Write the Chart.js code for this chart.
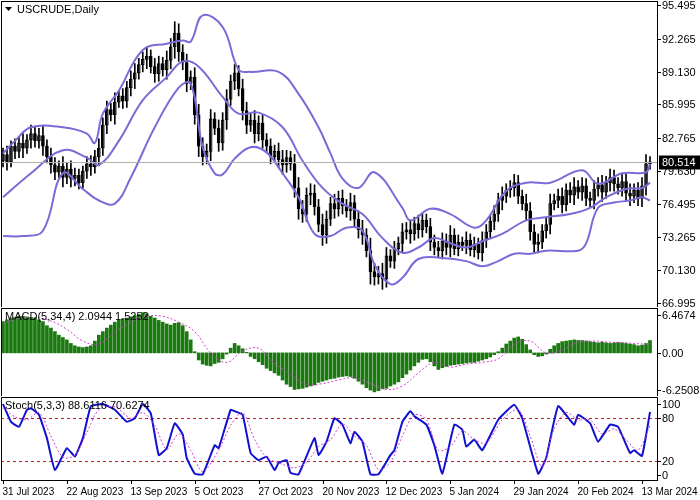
<!DOCTYPE html>
<html>
<head>
<meta charset="utf-8">
<script src="https://cdn.jsdelivr.net/npm/chart.js@4.4.1/dist/chart.umd.min.js"></script>
<style>
  body { margin: 0; background: #fff; }
  .pane { position: absolute; left: 0; width: 700px; }
</style>
</head>
<body>
<div class="pane" style="top:0;height:307px"><canvas id="priceChart"></canvas></div>
<div class="pane" style="top:307px;height:89px"><canvas id="macdChart"></canvas></div>
<div class="pane" style="top:396px;height:104px"><canvas id="stochChart"></canvas></div>
<script>
// daily closes, 31 Jul 2023 .. 13 Mar 2024 (bar index 0..162)
const closes = [
  81.2,80.5,82.0,81.5,82.3,81.8,82.6,83.2,82.5,83.0,82.0,
  81.0,80.2,79.5,80.1,79.0,79.8,78.9,79.2,78.5,79.6,
  80.3,80.0,81.0,81.8,84.0,
  85.5,85.0,86.2,86.8,86.3,87.6,
  88.4,89.0,89.8,90.3,90.6,
  89.6,88.9,89.9,89.3,90.2,
  91.5,92.8,91.0,
  90.0,88.0,88.6,
  85.0,82.0,81.0,
  81.5,84.6,83.7,
  82.3,84.5,86.5,88.2,89.0,
  87.5,85.4,84.0,84.5,
  83.2,84.2,82.6,82.0,
  81.0,81.5,80.7,80.2,80.9,80.3,
  78.0,76.0,75.5,77.3,
  77.5,76.2,74.5,73.5,
  75.0,76.5,76.0,77.0,76.3,75.8,76.6,
  75.0,74.0,73.5,72.0,70.0,69.5,
  69.8,69.3,71.5,71.0,
  72.2,72.7,73.8,74.0,73.6,74.6,74.0,74.9,74.3,
  72.8,72.3,
  72.0,72.9,72.3,73.5,72.2,72.8,72.5,73.0,72.1,72.6,71.8,73.0,
  73.8,74.8,75.5,76.8,77.2,77.8,78.0,
  78.5,77.2,
  76.5,75.8,73.8,72.6,
  72.8,73.9,74.5,
  76.5,76.8,77.2,76.4,77.8,77.3,78.1,77.6,78.2,77.0,76.8,77.9,
  78.3,77.6,78.5,79.0,78.4,78.0,78.6,77.5,77.2,77.8,77.0,78.2,
  80.3,80.5
];
const firstOpen = 80.6;
// wick length beyond the body, per bar
const wicks = [
  0.6,0.8,0.5,0.7,0.6,0.9,0.5,0.8,0.6,0.7,0.9,0.6,0.8,0.7,0.5,0.9,0.6,0.8,0.7,0.6,
  0.5,0.7,0.8,0.6,0.9,0.7,0.8,0.6,0.9,0.5,0.7,0.6,0.8,0.9,0.6,0.7,0.9,0.6,0.8,0.7,
  0.6,0.9,0.8,1.1,0.9,0.7,0.8,0.6,0.9,1.0,0.8,0.7,0.9,0.6,0.8,0.7,0.9,0.6,0.8,0.7,
  0.9,0.8,0.6,0.9,0.7,0.8,0.6,0.7,0.6,0.8,0.9,0.7,0.6,0.9,1.0,0.8,0.7,0.9,0.8,0.7,
  1.0,0.8,0.6,0.9,0.7,0.8,0.6,0.9,0.7,0.8,0.9,0.6,1.2,0.8,0.7,1.0,0.8,0.6,0.7,0.6,
  0.8,0.7,0.9,0.6,0.8,0.7,0.6,0.8,0.7,0.6,0.8,0.7,0.9,0.6,0.7,0.5,0.8,0.6,0.7,0.6,
  0.8,0.7,0.6,0.8,0.7,0.9,0.6,0.7,0.8,0.7,0.6,0.9,0.8,0.7,0.8,0.6,0.7,0.9,0.6,0.7,
  0.8,0.6,0.7,0.9,0.6,0.8,0.7,0.6,0.8,0.7,0.9,0.6,0.8,0.7,0.6,0.8,0.7,0.9,0.6,0.7,
  0.8,0.9,0.5
];

// Bollinger bands (bar index, value)
const upperIdx = [0,3,7,15,21,23,25,29,35,41,45,47,50,55,59,62,69,74,79,82,85,89,93,100,102,107,112,118,121,126,131,137,145,149,155,161,162];
const upperVal = [81.3,82.5,83.8,83.8,83.2,82.3,85.1,87.3,91.2,91.8,92.1,92.0,94.5,93.4,89.3,89.1,89.1,87.0,83.8,81.3,78.9,78.0,79.5,76.1,74.9,76.0,75.5,74.2,74.9,77.7,78.5,78.5,79.7,78.4,79.4,79.5,80.3];
const midIdx = [0,7,15,21,24,29,35,41,45,49,55,59,64,70,75,80,85,90,95,100,104,108,112,116,120,125,131,136,142,147,151,156,160,162];
const midVal = [77.1,79.4,81.6,80.9,80.2,82.5,86.4,88.6,90.1,89.6,86.7,85.1,85.2,83.8,80.6,78.0,76.5,75.5,73.2,71.8,72.3,73.2,72.7,72.3,72.9,73.6,74.9,75.2,75.5,76.1,77.1,77.9,78.0,78.5];
const lowerIdx = [0,5,10,15,20,24,28,32,38,44,47,50,53,55,58,62,66,70,74,78,82,86,90,93,97,100,104,110,116,120,124,128,132,136,144,146,149,153,157,160,162];
const lowerVal = [73.4,73.4,73.9,79.4,77.9,76.8,76.5,79.0,83.8,87.6,88.0,81.9,79.4,79.3,80.8,81.9,81.4,79.4,77.1,73.6,73.4,74.2,73.9,70.7,68.8,69.4,71.2,71.3,71.0,70.5,71.0,71.7,71.7,72.0,72.0,72.7,76.1,76.6,76.8,77.1,76.8];

// MACD(5,34,4) histogram per bar, signal line sampled
const macdHist = [
  5.3,5.6,5.9,6.0,6.2,6.2,6.1,6.0,5.9,5.6,5.3,
  4.6,4.2,3.6,3.0,2.6,2.2,1.6,1.2,1.0,
  0.9,1.0,1.2,2.0,
  3.0,3.6,4.2,4.7,
  5.2,5.6,5.8,5.9,6.1,6.3,6.5,6.8,6.6,
  6.2,5.9,5.5,5.2,4.9,4.7,5.0,5.1,4.6,
  3.6,2.2,0.2,
  -1.2,-1.9,-2.1,-2.2,-1.8,-1.6,
  -1.0,-0.2,0.8,1.6,1.2,0.7,0.1,-0.6,
  -1.0,-1.5,-2.0,-2.6,-3.0,-3.4,-3.8,-4.6,-5.3,-5.7,
  -6.2,-6.1,-6.0,-5.8,-5.6,-5.4,-5.0,
  -4.8,-4.6,-4.4,-4.3,-4.1,-4.0,-3.9,-4.0,-4.3,-4.8,
  -5.3,-5.9,-6.3,-6.6,-6.4,
  -6.1,-6.0,-5.6,-5.3,-4.9,
  -4.2,-3.6,-2.9,-2.2,-1.6,-1.1,-1.0,
  -1.5,-2.2,-2.8,-2.5,-2.3,-2.1,
  -2.0,-1.9,-1.8,-1.7,-1.6,-1.6,-1.4,-1.2,-1.0,-0.7,-0.3,0.2,
  0.8,1.5,2.0,2.5,2.7,2.3,
  1.4,0.5,-0.3,-0.6,-0.5,-0.2,0.6,
  1.2,1.6,1.9,2.0,2.1,2.2,2.1,2.1,
  2.0,1.9,1.8,1.7,1.8,1.7,1.6,1.7,1.8,1.7,1.6,1.5,1.4,1.2,1.3,1.6,2.1
];
const signalIdx = [0,4,8,12,16,20,24,28,32,36,40,44,48,52,56,60,64,68,72,76,80,84,88,92,96,100,104,108,112,116,120,124,128,132,136,140,144,148,152,156,160,162];
const signalVal = [5.0,5.8,6.0,5.4,4.0,2.0,1.5,3.5,5.2,6.2,6.2,5.2,3.6,0.0,-1.6,0.3,0.8,-1.8,-3.6,-5.4,-5.2,-4.6,-4.2,-5.2,-6.2,-5.6,-3.4,-1.6,-2.4,-1.9,-1.6,-1.0,1.5,2.0,0.0,0.5,1.8,2.0,1.8,1.7,1.5,1.5];

// Stochastic(5,3,3)
const kIdx = [0,2,4,6,7,9,11,13,16,18,20,22,25,28,31,33,35,37,39,41,43,45,46,48,50,53,54,57,58,60,62,64,66,68,69,71,72,74,78,79,81,83,85,87,88,90,92,94,97,98,100,102,103,106,108,110,113,115,116,118,120,124,128,130,134,136,139,143,144,147,149,152,154,157,158,160,162];
const kVal = [100,75,68,92,94,85,52,7,38,26,52,97,100,92,75,80,100,87,28,38,73,57,24,2,1,42,38,92,90,85,31,21,26,7,17,21,3,1,52,28,47,80,71,45,61,47,1,1,28,35,75,90,83,71,42,2,71,64,40,50,35,78,99,80,2,24,97,71,85,73,47,71,68,31,35,27,89];
const dIdx = [0,3,6,9,12,15,18,21,24,28,32,35,38,41,44,47,50,54,57,60,63,66,70,73,76,79,82,85,88,91,94,97,100,103,106,109,112,115,118,121,125,129,132,135,138,141,144,147,150,153,156,159,162];
const dVal = [95,82,78,88,55,25,28,60,92,96,80,88,70,36,58,35,5,35,70,88,50,25,15,10,18,40,50,72,55,42,8,18,55,85,78,35,40,62,50,45,78,92,55,12,65,88,78,78,58,65,50,35,70];

const priceTicks = [95.495, 92.265, 89.130, 85.995, 82.765, 79.630, 76.495, 73.265, 70.130, 66.995];
const priceTickText = ['95.495','92.265','89.130','85.995','82.765','79.630','76.495','73.265','70.130','66.995'];
const macdTicks = [6.4674, 0, -6.2508];
const macdTickText = ['6.4674', '0.00', '-6.2508'];
const stochTicks = [100, 80, 20, 0];
const stochTickText = ['100', '80', '20', '0'];
const dateLabels = ['31 Jul 2023','22 Aug 2023','13 Sep 2023','5 Oct 2023','27 Oct 2023','20 Nov 2023','12 Dec 2023','5 Jan 2024','29 Jan 2024','20 Feb 2024','13 Mar 2024'];
const lastPrice = 80.514;

const LABEL_FONT = '11px "Liberation Sans"';
const DATE_FONT = '10px "Liberation Sans"';
const BAND = '#7a6bd8';

const opens = closes.map((c, i) => i === 0 ? firstOpen : closes[i - 1]);
const pairs = (idx, val) => idx.map((x, i) => ({ x: x, y: val[i] }));

// frame, pane title and right-hand price labels
function makeFrame(title, ticks, texts, arrow) {
  return {
    id: 'frame',
    afterDraw(chart) {
      const a = chart.chartArea, ctx = chart.ctx, ys = chart.scales.y;
      ctx.save();
      ctx.strokeStyle = '#000';
      ctx.lineWidth = 1;
      ctx.strokeRect(a.left + 0.5, a.top + 0.5, a.right - a.left - 1, a.bottom - a.top);
      ctx.font = LABEL_FONT;
      ctx.fillStyle = '#000';
      ctx.textBaseline = 'middle';
      ticks.forEach((v, i) => {
        const y = Math.round(ys.getPixelForValue(v)) + 0.5;
        ctx.beginPath(); ctx.moveTo(a.right, y); ctx.lineTo(a.right + 3, y); ctx.stroke();
        ctx.fillText(texts[i], a.right + 4, y);
      });
      ctx.textBaseline = 'top';
      if (arrow) {
        ctx.beginPath();
        ctx.moveTo(a.left + 4, a.top + 6); ctx.lineTo(a.left + 11, a.top + 6); ctx.lineTo(a.left + 7.5, a.top + 10);
        ctx.fill();
        ctx.fillText(title, a.left + 16, a.top + 3);
      } else {
        ctx.fillText(title, a.left + 4, a.top + 3);
      }
      ctx.restore();
    }
  };
}

function yScale(min, max) {
  return {
    position: 'right', min: min, max: max,
    grid: { display: false, drawTicks: false },
    border: { display: false },
    ticks: { display: false },
    afterFit: s => { s.width = 42; }
  };
}
const xScale = { type: 'linear', min: -0.5, max: 164, offset: false, display: false };

const common = {
  responsive: true, maintainAspectRatio: false, animation: false,
  plugins: { legend: { display: false }, tooltip: { enabled: false } }
};

// price pane
new Chart(document.getElementById('priceChart'), {
  type: 'bar',
  data: {
    datasets: [
      { type: 'line', data: pairs(upperIdx, upperVal), borderColor: BAND, borderWidth: 2, pointRadius: 0, tension: 0.4 },
      { type: 'line', data: pairs(midIdx, midVal), borderColor: BAND, borderWidth: 2, pointRadius: 0, tension: 0.4 },
      { type: 'line', data: pairs(lowerIdx, lowerVal), borderColor: BAND, borderWidth: 2, pointRadius: 0, tension: 0.4 },
      {
        data: closes.map((c, i) => {
          const w = wicks[i] ?? 0.7;
          return { x: i, y: [Math.min(opens[i], c) - w, Math.max(opens[i], c) + w] };
        }),
        backgroundColor: '#000', barThickness: 1, grouped: false
      },
      {
        data: closes.map((c, i) => ({ x: i, y: [opens[i], c] })),
        backgroundColor: closes.map((c, i) => c >= opens[i] ? '#fff' : '#000'),
        borderColor: '#000', borderWidth: 1, borderSkipped: false,
        barThickness: 3, grouped: false
      }
    ]
  },
  options: {
    ...common,
    layout: { padding: { left: 1, top: 1, right: 0, bottom: 0 } },
    scales: { x: xScale, y: yScale(66.61, 95.88) }
  },
  plugins: [makeFrame('USCRUDE,Daily', priceTicks, priceTickText, true), {
    id: 'lastPrice',
    afterDraw(chart) {
      const ctx = chart.ctx, a = chart.chartArea;
      const y = Math.round(chart.scales.y.getPixelForValue(lastPrice)) + 0.5;
      ctx.save();
      ctx.strokeStyle = '#b0b0b0';
      ctx.beginPath(); ctx.moveTo(a.left + 1, y); ctx.lineTo(a.right - 1, y); ctx.stroke();
      ctx.fillStyle = '#000';
      ctx.fillRect(a.right + 1, y - 7, 41, 14);
      ctx.fillStyle = '#fff';
      ctx.font = LABEL_FONT;
      ctx.textBaseline = 'middle';
      ctx.fillText(lastPrice.toFixed(3), a.right + 4, y);
      ctx.restore();
    }
  }]
});

// MACD pane
new Chart(document.getElementById('macdChart'), {
  type: 'bar',
  data: {
    datasets: [
      { type: 'line', data: pairs(signalIdx, signalVal), borderColor: '#d040d0', borderWidth: 1, borderDash: [2, 2], pointRadius: 0, tension: 0.4 },
      { data: macdHist.map((v, i) => ({ x: i, y: v })), backgroundColor: '#1a7a10', barThickness: 3, grouped: false }
    ]
  },
  options: {
    ...common,
    layout: { padding: { left: 1, top: 1, right: 0, bottom: 0 } },
    scales: { x: xScale, y: yScale(-7.3, 7.6) }
  },
  plugins: [makeFrame('MACD(5,34,4) 2.0944 1.5252', macdTicks, macdTickText, false)]
});

// Stochastic pane
new Chart(document.getElementById('stochChart'), {
  type: 'line',
  data: {
    datasets: [
      { data: pairs(dIdx, dVal), borderColor: '#d040d0', borderWidth: 1, borderDash: [2, 2], pointRadius: 0, tension: 0.3 },
      { data: pairs(kIdx, kVal), borderColor: '#1010d0', borderWidth: 2, pointRadius: 0, tension: 0.12 }
    ]
  },
  options: {
    ...common,
    layout: { padding: { left: 1, top: 1, right: 0, bottom: 20 } },
    scales: { x: xScale, y: yScale(-7, 110) }
  },
  plugins: [{
    id: 'levels',
    beforeDatasetsDraw(chart) {
      const ctx = chart.ctx, a = chart.chartArea, ys = chart.scales.y;
      ctx.save();
      ctx.strokeStyle = '#c02020';
      ctx.setLineDash([3, 3]);
      [20, 80].forEach(v => {
        const y = Math.round(ys.getPixelForValue(v)) + 0.5;
        ctx.beginPath(); ctx.moveTo(a.left, y); ctx.lineTo(a.right, y); ctx.stroke();
      });
      ctx.restore();
    },
    afterDraw(chart) {
      const ctx = chart.ctx, a = chart.chartArea, xs = chart.scales.x;
      ctx.save();
      ctx.font = DATE_FONT;
      ctx.fillStyle = '#000';
      ctx.strokeStyle = '#000';
      ctx.textBaseline = 'top';
      dateLabels.forEach((t, i) => {
        const x = Math.round(xs.getPixelForValue(i * 16)) + 0.5;
        ctx.beginPath(); ctx.moveTo(x, a.bottom); ctx.lineTo(x, a.bottom + 4); ctx.stroke();
        ctx.fillText(t, Math.max(x - 1, 1), a.bottom + 7);
      });
      ctx.restore();
    }
  }, makeFrame('Stoch(5,3,3) 88.6116 70.6274', stochTicks, stochTickText, false)]
});
</script>
</body>
</html>
